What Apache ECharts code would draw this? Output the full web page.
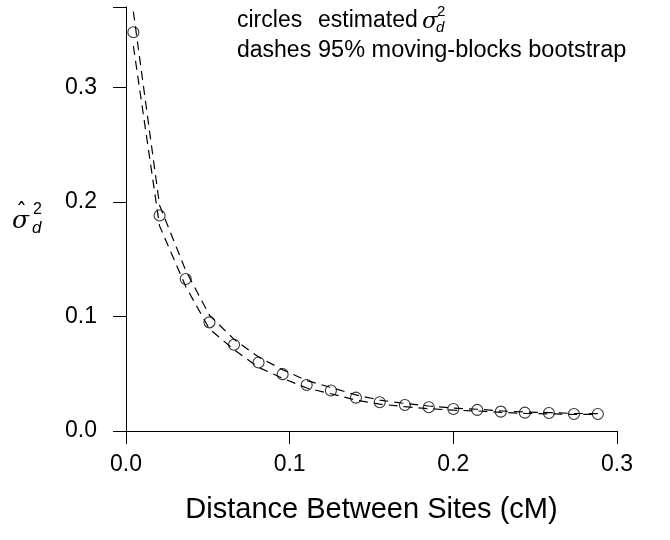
<!DOCTYPE html>
<html>
<head>
<meta charset="utf-8">
<script src="https://cdn.jsdelivr.net/npm/echarts@6/dist/echarts.min.js"></script>
<style>html,body{margin:0;padding:0;background:#fff}#c{width:670px;height:540px}</style>
</head>
<body>
<div id="c"></div>
<script>
const distance = [0.0045, 0.0205, 0.0365, 0.051, 0.066, 0.081, 0.0957, 0.1104, 0.1252, 0.1405, 0.155, 0.1704, 0.185, 0.2, 0.2146, 0.229, 0.2437, 0.2584, 0.2737, 0.2883];
const estimated = [0.348, 0.188, 0.1327, 0.0948, 0.0752, 0.0598, 0.0496, 0.0402, 0.0353, 0.0291, 0.0251, 0.0227, 0.0207, 0.0192, 0.0184, 0.0169, 0.0160, 0.0157, 0.0149, 0.0149];
const upperCI = [0.366, 0.197, 0.140, 0.101, 0.080, 0.0645, 0.0535, 0.0440, 0.0380, 0.0315, 0.0270, 0.0240, 0.0218, 0.0200, 0.0190, 0.0175, 0.0166, 0.0161, 0.0153, 0.0152];
const lowerCI = [0.336, 0.179, 0.126, 0.089, 0.071, 0.0555, 0.0460, 0.0375, 0.0325, 0.0270, 0.0235, 0.0212, 0.0195, 0.0182, 0.0175, 0.0162, 0.0154, 0.0150, 0.0144, 0.0145];
const xTicks = [0, 0.1, 0.2, 0.3];
const yTicks = [0, 0.1, 0.2, 0.3];

const FONT = '"Liberation Sans", Arial, sans-serif';
const pairs = ys => distance.map((x, i) => [x, ys[i]]);

const chart = echarts.init(document.getElementById('c'), null, {renderer: 'canvas'});
chart.setOption({
  animation: false,
  backgroundColor: '#fff',
  grid: {left: 126, right: 53, top: 7, bottom: 109, containLabel: false},
  xAxis: {
    type: 'value', min: 0, max: 0.3, interval: 0.1,
    name: 'Distance Between Sites (cM)', nameLocation: 'middle', nameGap: 64,
    nameTextStyle: {fontFamily: FONT, fontSize: 29, color: '#000'},
    axisLine: {show: true, onZero: false, lineStyle: {color: '#000', width: 1}},
    axisTick: {show: true, length: 13, lineStyle: {color: '#000'}},
    axisLabel: {margin: 22, fontFamily: FONT, fontSize: 23, color: '#000',
      formatter: v => xTicks.some(t => Math.abs(t - v) < 1e-9) ? v.toFixed(1) : ''},
    splitLine: {show: false}
  },
  yAxis: {
    type: 'value', min: 0, max: 0.37, interval: 0.1,
    axisLine: {show: true, onZero: false, lineStyle: {color: '#000', width: 1}},
    axisTick: {show: true, length: 13, lineStyle: {color: '#000'}},
    axisLabel: {margin: 29, fontFamily: FONT, fontSize: 23, color: '#000',
      formatter: v => yTicks.some(t => Math.abs(t - v) < 1e-9) ? v.toFixed(1) : ''},
    splitLine: {show: false}
  },
  series: [
    {type: 'line', data: pairs(upperCI), symbol: 'none', silent: true,
      lineStyle: {color: '#000', width: 1.2, type: [9, 6]}},
    {type: 'line', data: pairs(lowerCI), symbol: 'none', silent: true,
      lineStyle: {color: '#000', width: 1.2, type: [9, 6]}},
    {type: 'scatter', data: pairs(estimated), symbol: 'circle', symbolSize: 11,
      itemStyle: {color: 'rgba(0,0,0,0)', borderColor: '#000', borderWidth: 1.1}}
  ],
  graphic: [
    {type: 'text', left: 237, top: 9, style: {text: 'circles', font: '23px ' + FONT, fill: '#000'}},
    {type: 'text', left: 318, top: 9, style: {text: 'estimated', font: '23px ' + FONT, fill: '#000'}},
    {type: 'text', left: 422, top: 11, style: {text: 'σ', font: 'italic 23px "DejaVu Serif", serif', fill: '#000'}},
    {type: 'text', left: 437, top: 4, style: {text: '2', font: '15px ' + FONT, fill: '#000'}},
    {type: 'text', left: 436, top: 20, style: {text: 'd', font: 'italic 15px ' + FONT, fill: '#000'}},
    {type: 'text', left: 237, top: 39, style: {text: 'dashes', font: '23px ' + FONT, fill: '#000'}},
    {type: 'text', left: 318, top: 39, style: {text: '95% moving-blocks bootstrap', font: '23.5px ' + FONT, fill: '#000'}},
    {type: 'text', left: 12, top: 209, style: {text: 'σ', font: 'italic 25px "DejaVu Serif", serif', fill: '#000'}},
    {type: 'text', left: 16, top: 201, style: {text: 'ˆ', font: '22px "DejaVu Sans", sans-serif', fill: '#000'}},
    {type: 'text', left: 33, top: 202, style: {text: '2', font: '16px ' + FONT, fill: '#000'}},
    {type: 'text', left: 32, top: 220, style: {text: 'd', font: 'italic 17px ' + FONT, fill: '#000'}}
  ]
});
</script>
</body>
</html>
